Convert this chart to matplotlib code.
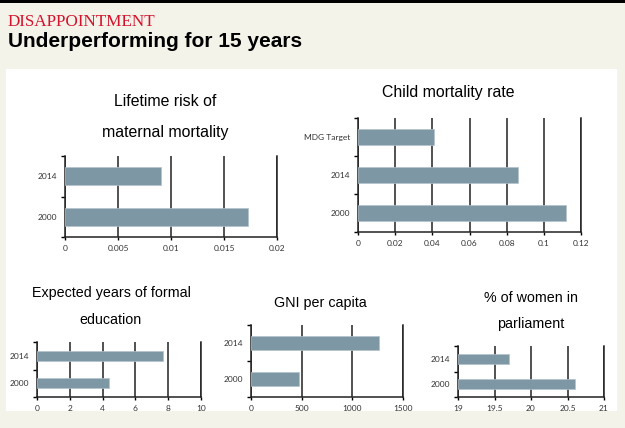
import matplotlib
matplotlib.use("Agg")
import matplotlib.pyplot as plt
from matplotlib.patches import Rectangle
import numpy as np

# --- data ---
maternal_cats = ["2000", "2014"]
maternal_vals = [0.0173, 0.0091]
maternal_ticks = [0, 0.005, 0.01, 0.015, 0.02]
maternal_ticklabels = ["0", "0.005", "0.01", "0.015", "0.02"]

child_cats = ["2000", "2014", "MDG Target"]
child_vals = [0.112, 0.086, 0.041]
child_ticks = [0, 0.02, 0.04, 0.06, 0.08, 0.1, 0.12]
child_ticklabels = ["0", "0.02", "0.04", "0.06", "0.08", "0.1", "0.12"]

edu_cats = ["2000", "2014"]
edu_vals = [4.4, 7.7]
edu_ticks = [0, 2, 4, 6, 8, 10]
edu_ticklabels = ["0", "2", "4", "6", "8", "10"]

gni_cats = ["2000", "2014"]
gni_vals = [470, 1260]
gni_ticks = [0, 500, 1000, 1500]
gni_ticklabels = ["0", "500", "1000", "1500"]

women_cats = ["2000", "2014"]
women_vals = [20.6, 19.7]
women_ticks = [19, 19.5, 20, 20.5, 21]
women_ticklabels = ["19", "19.5", "20", "20.5", "21"]

W, H = 625, 428
BG = "#f4f3ea"
BAR = "#7e97a5"

fig = plt.figure(figsize=(W / 100, H / 100), dpi=100, facecolor=BG)

# top rule and white panel (behind the axes)
fig.add_artist(Rectangle((0, 1 - 2.5 / H), 1, 2.5 / H, transform=fig.transFigure,
                         color="black", lw=0, zorder=-2))
fig.add_artist(Rectangle((6 / W, 1 - 411 / H), (617 - 6) / W, (411 - 69) / H,
                         transform=fig.transFigure, color="white", lw=0, zorder=-2))

fig.text(8 / W, 1 - 26 / H, "DISAPPOINTMENT", color="#d3122c",
         family="Liberation Serif", fontsize=12.3, va="baseline")
fig.text(8 / W, 1 - 47 / H, "Underperforming for 15 years", color="black",
         family="Liberation Sans", fontweight="bold", fontsize=15, va="baseline")


def panel(box, cats, vals, ticks, ticklabels, bar_h):
    x0, x1, y0, y1 = box
    ax = fig.add_axes([x0 / W, 1 - y1 / H, (x1 - x0) / W, (y1 - y0) / H])
    ax.set_facecolor("white")
    pos = np.arange(len(cats))
    left = ticks[0]
    ax.barh(pos, np.array(vals) - left, left=left, height=bar_h, color=BAR,
            edgecolor="#b3c3cc", linewidth=0.5, zorder=3)
    ax.set_xlim(ticks[0], ticks[-1])
    ax.set_ylim(-0.5, len(cats) - 0.5)
    ax.set_xticks(ticks)
    ax.set_xticklabels(ticklabels)
    ax.set_yticks(pos)
    ax.set_yticklabels(cats)
    ax.set_yticks(np.arange(len(cats) + 1) - 0.5, minor=True)
    ax.tick_params(axis="y", which="major", length=0, pad=5.5)
    ax.tick_params(axis="y", which="minor", length=3, width=1, direction="out")
    ax.tick_params(axis="x", length=2, width=1, pad=3.5)
    ax.tick_params(labelsize=6, labelcolor="#333333")
    for lab in ax.get_xticklabels() + ax.get_yticklabels():
        lab.set_family("Lato")
    ax.grid(axis="x", color="#222222", linewidth=1.1, zorder=1)
    ax.spines["top"].set_visible(False)
    for s in ("left", "bottom", "right"):
        ax.spines[s].set_color("#222222")
        ax.spines[s].set_linewidth(1.1)
    return ax


panel((65, 277, 156, 237), maternal_cats, maternal_vals, maternal_ticks,
      maternal_ticklabels, 0.44)
panel((358, 581, 118, 232), child_cats, child_vals, child_ticks,
      child_ticklabels, 0.40)
panel((37, 201, 342, 397), edu_cats, edu_vals, edu_ticks, edu_ticklabels, 0.38)
panel((251, 403, 325, 397), gni_cats, gni_vals, gni_ticks, gni_ticklabels, 0.39)
panel((458, 604, 346, 397), women_cats, women_vals, women_ticks,
      women_ticklabels, 0.40)


def title(cx, cy, text, size):
    fig.text(cx / W, 1 - cy / H, text, ha="center", va="center",
             family="Liberation Sans", fontsize=size, color="black")


title(165, 102, "Lifetime risk of", 11.4)
title(165, 133, "maternal mortality", 11.4)
title(448, 93, "Child mortality rate", 11.4)
title(111, 293, "Expected years of formal", 10.3)
title(111, 320, "education", 10.3)
title(320, 303, "GNI per capita", 10.3)
title(531, 298, "% of women in", 10.3)
title(531, 324, "parliament", 10.3)

fig.savefig("out.png", dpi=100, facecolor=BG)
